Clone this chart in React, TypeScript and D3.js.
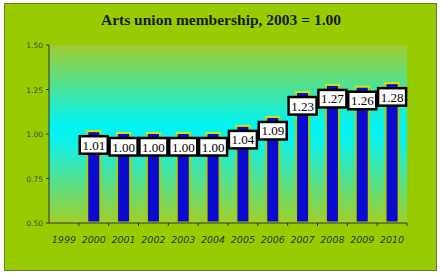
import React from "react";
import * as d3 from "d3";

const years = ["1999","2000","2001","2002","2003","2004","2005","2006","2007","2008","2009","2010"];
const values: (number | null)[] = [null,1.01,1.00,1.00,1.00,1.00,1.04,1.09,1.23,1.27,1.26,1.28];
const yTicks = [0.5,0.75,1.0,1.25,1.5];
const title = "Arts union membership, 2003 = 1.00";

export default function App() {
  const W = 442, H = 275;
  const left = 49, right = 407, top = 45, bottom = 223;
  const x = d3.scaleBand<string>().domain(years).range([left, right]);
  const y = d3.scaleLinear().domain([0.5, 1.5]).range([bottom, top]);
  const bw = x.bandwidth();
  const barW = 11;
  return (
    <svg width={W} height={H} style={{ position: "absolute", left: 0, top: 0 }}>
      <defs>
        <linearGradient id="bg" x1="0" y1="0" x2="0" y2="1">
          <stop offset="0" stopColor="#a0cd30" />
          <stop offset="0.45" stopColor="#00f4f4" />
          <stop offset="0.55" stopColor="#10f0e8" />
          <stop offset="1" stopColor="#a0cf2a" />
        </linearGradient>
      </defs>
      <rect x={4.5} y={3.5} width={432} height={267} fill="#99cc00" stroke="#6b7d2a" strokeWidth={1} />
      <text x={221} y={25} textAnchor="middle" fontFamily="'Liberation Serif', serif" fontWeight="bold" fontSize={15.5} fill="#1a1a1a">{title}</text>
      <rect x={left} y={top} width={right - left} height={bottom - top} fill="url(#bg)" />
      {years.map((yr, i) => {
        const v = values[i];
        if (v == null) return null;
        const cx = (x(yr) as number) + bw / 2;
        const yt = y(v);
        return (
          <g key={yr}>
            <rect x={cx - barW / 2 - 2} y={yt - 2} width={barW + 4} height={bottom - yt + 1} fill="#a8d000" />
            <rect x={cx - barW / 2 - 2} y={yt - 2} width={barW + 4} height={2.5} fill="#d8e400" />
            <rect x={cx - barW / 2} y={yt} width={barW} height={bottom - yt - 1.5} fill="#0a0ad0" />
          </g>
        );
      })}
      {years.map((yr, i) => {
        const v = values[i];
        if (v == null) return null;
        const cx = (x(yr) as number) + bw / 2;
        const yt = y(v);
        return (
          <g key={"l" + yr}>
            <rect x={cx - 14} y={yt + 4} width={28} height={17.5} fill="#fff" stroke="#000" strokeWidth={2.5} />
            <text x={cx} y={yt + 17.5} textAnchor="middle" fontFamily="'Liberation Serif', serif" fontSize={13} fill="#000">{v.toFixed(2)}</text>
          </g>
        );
      })}
      <line x1={left} y1={top} x2={left} y2={bottom} stroke="#333" strokeWidth={1} />
      {yTicks.map((t) => (
        <g key={t}>
          <line x1={left - 3} x2={left} y1={y(t)} y2={y(t)} stroke="#333" />
          <text x={left - 6} y={y(t) + 3} textAnchor="end" fontFamily="'DejaVu Sans', sans-serif" fontSize={7.5} fill="#444">{t.toFixed(2)}</text>
        </g>
      ))}
      <line x1={left} y1={bottom} x2={right} y2={bottom} stroke="#333" strokeWidth={1} />
      {years.map((yr, i) => (
        <g key={"t" + yr}>
          <line x1={(x(yr) as number) + bw} x2={(x(yr) as number) + bw} y1={bottom} y2={bottom + 3} stroke="#333" />
          <text x={(x(yr) as number) + bw / 2} y={bottom + 20} textAnchor="middle" fontFamily="'DejaVu Sans', sans-serif" fontStyle="italic" fontSize={9.5} fill="#333">{yr}</text>
        </g>
      ))}
    </svg>
  );
}
